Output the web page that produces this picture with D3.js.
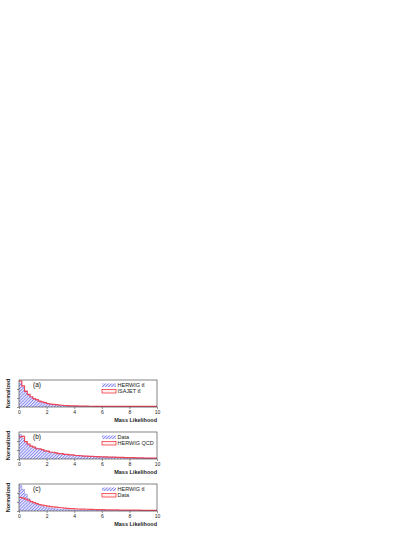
<!DOCTYPE html>
<html><head><meta charset="utf-8">
<script src="https://cdn.jsdelivr.net/npm/d3@7"></script>
<style>html,body{margin:0;padding:0;background:#fff;}svg{display:block;}</style>
</head><body>
<svg id="c" width="415" height="537"></svg>
<script>
const binWidth = 0.2;
const xTicks = [0, 2, 4, 6, 8, 10];
const panelLabels = ["(a)", "(b)", "(c)"];
const blueNames = ["HERWIG t\u0074\u0304", "Data", "HERWIG t\u0074\u0304"];
const redNames = ["ISAJET t\u0074\u0304", "HERWIG QCD", "Data"];

const aBlue = [0.88,0.74,0.60,0.46,0.37,0.30,0.25,0.21,0.17,0.15,0.12,0.10,0.09,0.08,0.07,0.06,0.05,0.045,0.04,0.035,
  0.03,0.03,0.028,0.025,0.024,0.022,0.02,0.02,0.018,0.017,0.016,0.015,0.015,0.014,0.013,0.013,0.012,0.012,0.011,0.011,
  0.01,0.01,0.01,0.009,0.009,0.009,0.008,0.008,0.008,0.008];
const aRed = [0.96,0.78,0.58,0.47,0.38,0.31,0.27,0.22,0.19,0.16,0.13,0.11,0.10,0.085,0.075,0.065,0.055,0.05,0.045,0.04,
  0.038,0.035,0.033,0.03,0.03,0.028,0.027,0.026,0.025,0.025,0.024,0.024,0.023,0.023,0.022,0.022,0.022,0.021,0.021,0.02,
  0.02,0.02,0.02,0.02,0.02,0.02,0.02,0.02,0.02,0.02];
const bBlue = [0.90,0.76,0.60,0.52,0.47,0.42,0.40,0.37,0.34,0.31,0.28,0.26,0.24,0.22,0.21,0.19,0.18,0.16,0.15,0.14,
  0.13,0.12,0.12,0.11,0.10,0.10,0.09,0.09,0.085,0.08,0.08,0.075,0.07,0.07,0.065,0.06,0.06,0.055,0.05,0.05,
  0.045,0.045,0.04,0.04,0.035,0.035,0.03,0.03,0.025,0.025];
const bRed = [0.82,0.84,0.64,0.55,0.48,0.44,0.38,0.38,0.35,0.30,0.29,0.25,0.25,0.23,0.20,0.20,0.17,0.17,0.15,0.15,
  0.13,0.13,0.12,0.11,0.11,0.10,0.10,0.09,0.09,0.08,0.08,0.08,0.07,0.07,0.07,0.06,0.06,0.06,0.05,0.05,
  0.05,0.05,0.04,0.04,0.04,0.035,0.035,0.03,0.03,0.03];
const cBlue = [0.95,0.80,0.62,0.45,0.36,0.30,0.25,0.20,0.17,0.14,0.12,0.10,0.09,0.08,0.07,0.06,0.05,0.045,0.04,0.035,
  0.03,0.03,0.028,0.025,0.024,0.022,0.02,0.02,0.018,0.017,0.016,0.015,0.015,0.014,0.013,0.013,0.012,0.012,0.011,0.011,
  0.01,0.01,0.01,0.009,0.009,0.009,0.008,0.008,0.008,0.008];
const cRed = [0.50,0.48,0.44,0.40,0.35,0.31,0.27,0.24,0.22,0.20,0.18,0.16,0.15,0.14,0.13,0.12,0.11,0.10,0.09,0.085,
  0.08,0.075,0.07,0.07,0.065,0.06,0.06,0.055,0.05,0.05,0.05,0.045,0.045,0.04,0.04,0.04,0.035,0.035,0.035,0.03,
  0.03,0.03,0.03,0.03,0.025,0.025,0.025,0.025,0.025,0.025];

const panels = [
  {blue: aBlue, red: aRed, top: 380},
  {blue: bBlue, red: bRed, top: 432},
  {blue: cBlue, red: cRed, top: 484}
];

const svg = d3.select("#c");
const font = "'Liberation Sans', Arial, sans-serif";
const defs = svg.append("defs");
const pw = 2.2;
const pat = defs.append("pattern").attr("id","hatch").attr("patternUnits","userSpaceOnUse")
  .attr("width",pw).attr("height",pw).attr("patternTransform","rotate(45)");
pat.append("rect").attr("width",pw).attr("height",pw).attr("fill","#f2f2fe");
pat.append("line").attr("x1",0.5).attr("y1",0).attr("x2",0.5).attr("y2",pw)
  .attr("stroke","#7b7bf2").attr("stroke-width",0.9);

const x = d3.scaleLinear().domain([0,10]).range([19,157]);
const H = 27;

panels.forEach((p, i) => {
  const y = d3.scaleLinear().domain([0,1]).range([p.top + H, p.top]);
  const g = svg.append("g");
  const pts = v => v.map((d,k)=>({x:k*binWidth, y:d})).concat([{x:v.length*binWidth, y:v[v.length-1]}]);
  const area = d3.area().x(d=>x(d.x)).y0(y(0)).y1(d=>y(d.y)).curve(d3.curveStepAfter);
  const line = d3.line().x(d=>x(d.x)).y(d=>y(d.y)).curve(d3.curveStepAfter);
  g.append("path").attr("d", area(pts(p.blue))).attr("fill","url(#hatch)");
  g.append("path").attr("d", line(pts(p.blue))).attr("fill","none").attr("stroke","#8080ea").attr("stroke-width",0.5);
  g.append("path").attr("d", line(pts(p.red))).attr("fill","none").attr("stroke","#f23a48").attr("stroke-width",1.2).attr("opacity",0.9);

  // frame
  g.append("rect").attr("x",x(0)).attr("y",p.top).attr("width",x(10)-x(0)).attr("height",H)
    .attr("fill","none").attr("stroke","#333").attr("stroke-width",0.6);
  // x axis
  const ax = g.append("g").attr("transform",`translate(0,${p.top+H})`)
    .call(d3.axisBottom(x).tickValues(xTicks).tickSize(2).tickPadding(1.5).tickFormat(d3.format("d")));
  ax.select(".domain").remove();
  ax.selectAll("line").attr("stroke","#333").attr("stroke-width",0.5);
  ax.selectAll("text").attr("font-family",font).attr("font-size",5).attr("fill","#222");
  // y axis ticks
  const ay = g.append("g").attr("transform",`translate(${x(0)},0)`)
    .call(d3.axisLeft(y).tickValues([0,1/3,2/3]).tickSize(2).tickFormat(""));
  ay.select(".domain").remove();
  ay.selectAll("line").attr("stroke","#333").attr("stroke-width",0.5);

  g.append("text").attr("x",x(10)).attr("y",p.top+H+15).attr("text-anchor","end")
    .attr("font-family",font).attr("font-size",5.5).attr("font-weight","bold").attr("fill","#222").text("Mass Likelihood");
  g.append("text").attr("transform",`translate(10,${p.top+H/2}) rotate(-90)`).attr("text-anchor","middle")
    .attr("font-family",font).attr("font-size",5.5).attr("font-weight","bold").attr("fill","#222").text("Normalized");
  g.append("text").attr("x",33).attr("y",p.top+6.5).attr("font-family",font).attr("font-size",6.5)
    .attr("fill","#111").text(panelLabels[i]);

  // legend
  g.append("rect").attr("x",102).attr("y",p.top+3.5).attr("width",14).attr("height",3.5).attr("fill","url(#hatch)");
  g.append("rect").attr("x",102).attr("y",p.top+9.5).attr("width",14).attr("height",3.5)
    .attr("fill","#fff0f0").attr("stroke","#f23a48").attr("stroke-width",0.8);
  g.append("text").attr("x",117.5).attr("y",p.top+7.2).attr("font-family",font).attr("font-size",5.5)
    .attr("fill","#222").text(blueNames[i]);
  g.append("text").attr("x",117.5).attr("y",p.top+13.2).attr("font-family",font).attr("font-size",5.5)
    .attr("fill","#222").text(redNames[i]);
});
</script>
</body></html>
